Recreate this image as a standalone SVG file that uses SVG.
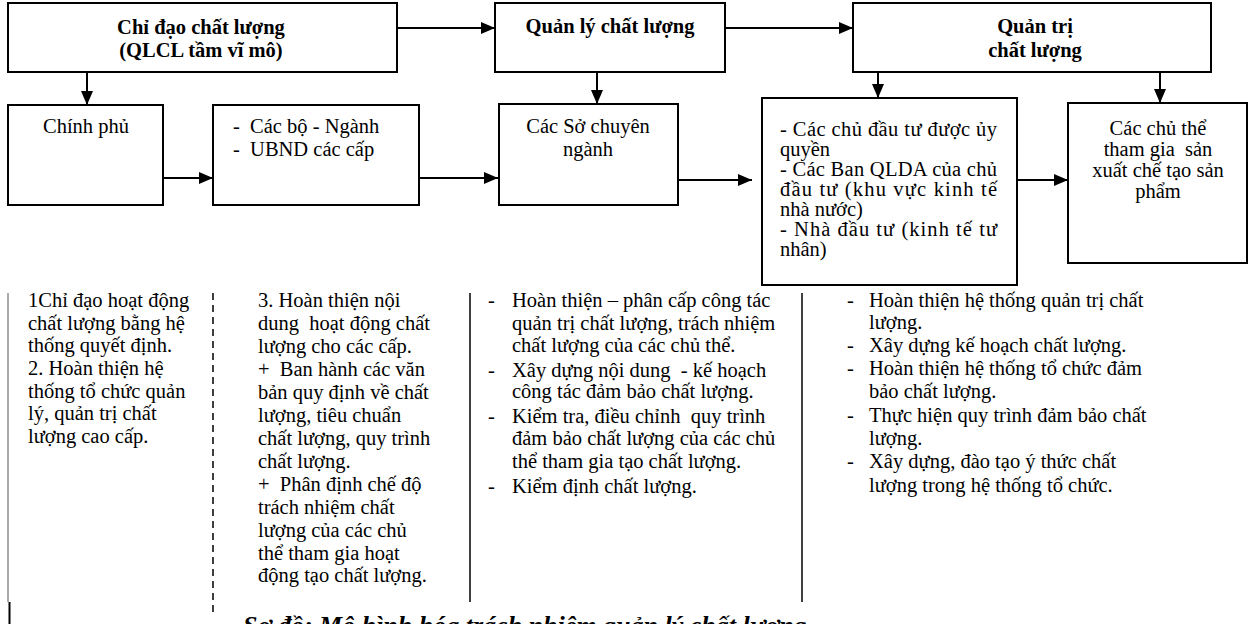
<svg xmlns="http://www.w3.org/2000/svg" width="1254" height="624" viewBox="0 0 1254 624">
<style>
.box{fill:#fff;stroke:#000;stroke-width:2}
.t{font-family:"Liberation Serif","Times New Roman",serif;font-size:20.5px;fill:#000}
.b{font-weight:bold}
.c{text-anchor:middle}
.con{stroke:#000;stroke-width:2;fill:none}
.col{stroke:#000;stroke-width:1.5;fill:none}
.cap{font-family:"Liberation Serif","Times New Roman",serif;font-size:26px;font-weight:bold;font-style:italic;fill:#000}
</style>
<defs>
<marker id="ah" markerUnits="userSpaceOnUse" markerWidth="14" markerHeight="12" refX="14" refY="6" orient="auto">
<path d="M0,0 L14,6 L0,12 Z" fill="#000"/>
</marker>
</defs>
<g id="connectors">
<line class="con" x1="397" y1="28" x2="495" y2="28" marker-end="url(#ah)"/>
<line class="con" x1="725" y1="28" x2="853" y2="28" marker-end="url(#ah)"/>
<line class="con" x1="87" y1="72" x2="87" y2="105" marker-end="url(#ah)"/>
<line class="con" x1="597" y1="72" x2="597" y2="104" marker-end="url(#ah)"/>
<line class="con" x1="878" y1="72" x2="878" y2="98" marker-end="url(#ah)"/>
<line class="con" x1="1160" y1="72" x2="1160" y2="103" marker-end="url(#ah)"/>
<line class="con" x1="163" y1="178" x2="213" y2="178" marker-end="url(#ah)"/>
<line class="con" x1="419" y1="178" x2="498" y2="178" marker-end="url(#ah)"/>
<line class="con" x1="675" y1="180" x2="752" y2="180" marker-end="url(#ah)"/>
<line class="con" x1="1017" y1="180" x2="1068" y2="180" marker-end="url(#ah)"/>
</g>
<g id="n-chidao">
<rect class="box" x="8" y="3" width="389" height="69"/>
<text class="t b c" x="201" y="34">Chỉ đạo chất lượng</text>
<text class="t b c" x="201" y="57">(QLCL tầm vĩ mô)</text>
</g>
<g id="n-quanly">
<rect class="box" x="495" y="3" width="230" height="69"/>
<text class="t b c" x="610" y="33">Quản lý chất lượng</text>
</g>
<g id="n-quantri">
<rect class="box" x="853" y="3" width="358" height="69"/>
<text class="t b c" x="1035" y="33">Quản trị</text>
<text class="t b c" x="1035" y="57">chất lượng</text>
</g>
<g id="n-chinhphu">
<rect class="box" x="8" y="105" width="155" height="100"/>
<text class="t c" x="86" y="133">Chính phủ</text>
</g>
<g id="n-cacbo">
<rect class="box" x="213" y="105" width="206" height="100"/>
<text class="t" x="233" y="133" xml:space="preserve">-  Các bộ - Ngành</text>
<text class="t" x="233" y="156" xml:space="preserve">-  UBND các cấp</text>
</g>
<g id="n-caso">
<rect class="box" x="499" y="104" width="179" height="101"/>
<text class="t c" x="588" y="133">Các Sở chuyên</text>
<text class="t c" x="588" y="156">ngành</text>
</g>
<g id="n-chudautu">
<rect class="box" x="762" y="98" width="255" height="187"/>
<text class="t" x="780" y="136" textLength="217" lengthAdjust="spacing">- Các chủ đầu tư được ủy</text>
<text class="t" x="780" y="156">quyền</text>
<text class="t" x="780" y="176" textLength="217" lengthAdjust="spacing">- Các Ban QLDA của chủ</text>
<text class="t" x="780" y="196" textLength="217" lengthAdjust="spacing">đầu tư (khu vực kinh tế</text>
<text class="t" x="780" y="216">nhà nước)</text>
<text class="t" x="780" y="236" textLength="217" lengthAdjust="spacing">- Nhà đầu tư (kinh tế tư</text>
<text class="t" x="780" y="256">nhân)</text>
</g>
<g id="n-chuthe">
<rect class="box" x="1068" y="103" width="179" height="160"/>
<text class="t c" x="1158" y="135">Các chủ thể</text>
<text class="t c" x="1158" y="156" xml:space="preserve">tham gia  sản</text>
<text class="t c" x="1158" y="177">xuất chế tạo sản</text>
<text class="t c" x="1158" y="198">phẩm</text>
</g>
<g id="columns">
<line x1="8" y1="293" x2="8" y2="602" stroke="#555" stroke-width="1"/>
<line x1="9.5" y1="602" x2="9.5" y2="624" stroke="#000" stroke-width="2"/>
<line class="col" x1="213" y1="293" x2="213" y2="614" stroke-dasharray="7,5"/>
<line class="col" x1="470" y1="293" x2="470" y2="602"/>
<line class="col" x1="802" y1="293" x2="802" y2="602"/>
</g>
<g id="col1">
<text class="t" x="28" y="307">1Chỉ đạo hoạt động</text>
<text class="t" x="28" y="330">chất lượng bằng hệ</text>
<text class="t" x="28" y="352">thống quyết định.</text>
<text class="t" x="28" y="375">2. Hoàn thiện hệ</text>
<text class="t" x="28" y="398">thống tổ chức quản</text>
<text class="t" x="28" y="420">lý, quản trị chất</text>
<text class="t" x="28" y="443">lượng cao cấp.</text>
</g>
<g id="col2">
<text class="t" x="258" y="307">3. Hoàn thiện nội</text>
<text class="t" x="258" y="330" xml:space="preserve">dung  hoạt động chất</text>
<text class="t" x="258" y="353">lượng cho các cấp.</text>
<text class="t" x="258" y="376" xml:space="preserve">+  Ban hành các văn</text>
<text class="t" x="258" y="399">bản quy định về chất</text>
<text class="t" x="258" y="422">lượng, tiêu chuẩn</text>
<text class="t" x="258" y="445">chất lượng, quy trình</text>
<text class="t" x="258" y="468">chất lượng.</text>
<text class="t" x="258" y="491" xml:space="preserve">+  Phân định chế độ</text>
<text class="t" x="258" y="514">trách nhiệm chất</text>
<text class="t" x="258" y="537">lượng của các chủ</text>
<text class="t" x="258" y="560">thể tham gia hoạt</text>
<text class="t" x="258" y="582">động tạo chất lượng.</text>
</g>
<g id="col3">
<text class="t" x="488" y="307">-</text>
<text class="t" x="512" y="307">Hoàn thiện – phân cấp công tác</text>
<text class="t" x="512" y="330">quản trị chất lượng, trách nhiệm</text>
<text class="t" x="512" y="352">chất lượng của các chủ thể.</text>
<text class="t" x="488" y="377">-</text>
<text class="t" x="512" y="377" xml:space="preserve">Xây dựng nội dung  - kế hoạch</text>
<text class="t" x="512" y="398">công tác đảm bảo chất lượng.</text>
<text class="t" x="488" y="423">-</text>
<text class="t" x="512" y="423" xml:space="preserve">Kiểm tra, điều chỉnh  quy trình</text>
<text class="t" x="512" y="445">đảm bảo chất lượng của các chủ</text>
<text class="t" x="512" y="468">thể tham gia tạo chất lượng.</text>
<text class="t" x="488" y="493">-</text>
<text class="t" x="512" y="493">Kiểm định chất lượng.</text>
</g>
<g id="col4">
<text class="t" x="847" y="307">-</text>
<text class="t" x="869" y="307">Hoàn thiện hệ thống quản trị chất</text>
<text class="t" x="869" y="329">lượng.</text>
<text class="t" x="847" y="352">-</text>
<text class="t" x="869" y="352">Xây dựng kế hoạch chất lượng.</text>
<text class="t" x="847" y="375">-</text>
<text class="t" x="869" y="375">Hoàn thiện hệ thống tổ chức đảm</text>
<text class="t" x="869" y="398">bảo chất lượng.</text>
<text class="t" x="847" y="422">-</text>
<text class="t" x="869" y="422">Thực hiện quy trình đảm bảo chất</text>
<text class="t" x="869" y="445">lượng.</text>
<text class="t" x="847" y="468">-</text>
<text class="t" x="869" y="468">Xây dựng, đào tạo ý thức chất</text>
<text class="t" x="869" y="492">lượng trong hệ thống tổ chức.</text>
</g>
<text class="cap" x="243" y="634">Sơ đồ: Mô hình hóa trách nhiệm quản lý chất lượng</text>
</svg>
